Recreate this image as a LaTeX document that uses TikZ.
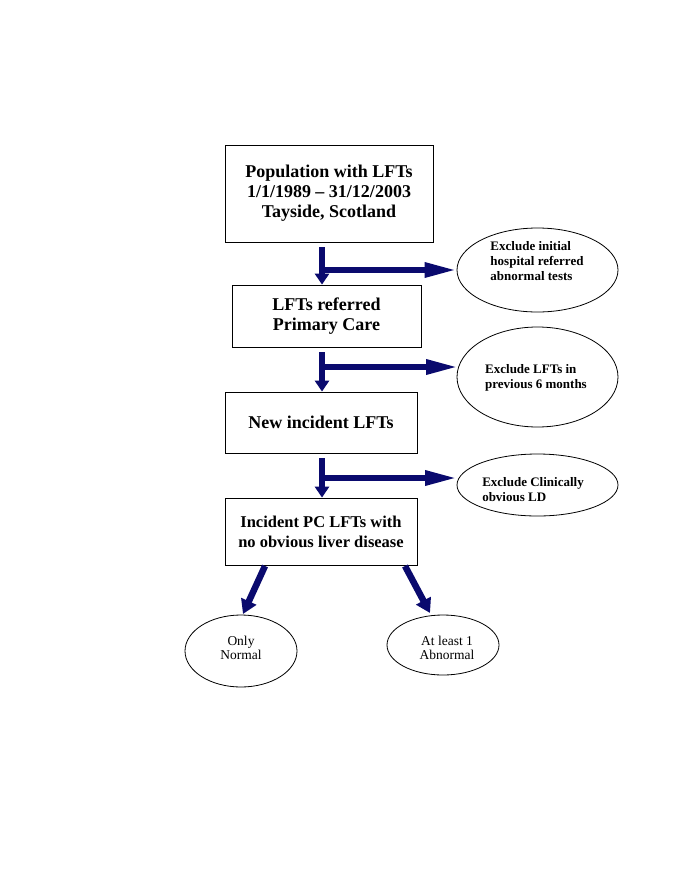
\documentclass[tikz,border=0pt]{standalone}
\usepackage{fontspec}
\setmainfont{Liberation Serif}
\usetikzlibrary{arrows.meta,shapes.geometric,calc}
\definecolor{navy}{RGB}{10,10,110}
\begin{document}
\begin{tikzpicture}[x=1pt,y=-1pt,
  box/.style={draw,line width=0.8pt,rectangle,inner sep=0pt,align=center},
  oval/.style={draw,line width=0.8pt,ellipse,inner sep=0pt},
  boxtxt/.style={font=\fontsize{18}{20}\selectfont\bfseries,align=center},
  ovaltxt/.style={font=\fontsize{13}{15}\selectfont\bfseries,align=left,inner sep=0pt},
  endtxt/.style={font=\fontsize{13.5}{14.5}\selectfont,align=center,inner sep=0pt},
  varrow/.style={draw=navy,line width=6pt,-{Triangle[length=11pt,width=14pt]},shorten <=5pt},
  harrow/.style={draw=navy,line width=6pt,-{Triangle[length=32pt,width=14pt]}},
  darrow/.style={draw=navy,line width=6.5pt,-{Triangle[length=14pt,width=16pt]}}]
\useasboundingbox[fill=white] (0,0) rectangle (685,886);

% boxes
\node[box,minimum width=208pt,minimum height=97pt,boxtxt] (b1) at (329,193.5)
  {Population with LFTs\\1/1/1989 -- 31/12/2003\\Tayside, Scotland};
\node[box,minimum width=189pt,minimum height=62pt,boxtxt] (b2) at (326.5,316)
  {LFTs referred\\Primary Care};
\node[box,minimum width=192pt,minimum height=61pt,boxtxt] (b3) at (321,422.5)
  {New incident LFTs};
\node[box,minimum width=192pt,minimum height=67pt,font=\fontsize{16.5}{20}\selectfont\bfseries] (b4) at (321,531.5)
  {Incident PC LFTs with\\no obvious liver disease};
% ellipses
\node[oval,minimum width=161pt,minimum height=84pt] (e1) at (537.5,270) {};
\node[ovaltxt] (e1t) at (537,261) {Exclude initial\\hospital referred\\abnormal tests};
\node[oval,minimum width=161pt,minimum height=100pt] (e2) at (537.5,377) {};
\node[ovaltxt] (e2t) at (536,378) {Exclude LFTs in\\previous 6 months};
\node[oval,minimum width=161pt,minimum height=62pt] (e3) at (537.5,485) {};
\node[ovaltxt] (e3t) at (533,490) {Exclude Clinically\\obvious LD};
\node[oval,minimum width=112pt,minimum height=72pt] (o1) at (241,651) {};
\node[endtxt] (o1t) at (241,648) {Only\\Normal};
\node[oval,minimum width=112pt,minimum height=60pt] (o2) at (443,645) {};
\node[endtxt] (o2t) at (447,648) {At least 1\\Abnormal};

% arrow guide coordinates
\coordinate (ax) at (322,0);
\coordinate (h1) at (325,270);
\coordinate (h2) at (325,367);
\coordinate (h3) at (325,478);
\coordinate (d1s) at (265,566);
\coordinate (d1e) at (243,614);
\coordinate (d2s) at (405,566);
\coordinate (d2e) at (430,613);

% vertical arrows
\draw[varrow] (b1.south -| ax) -- (b2.north -| ax);
\draw[varrow] (b2.south -| ax) -- (b3.north -| ax);
\draw[varrow] (b3.south -| ax) -- (b4.north -| ax);
% horizontal arrows
\draw[harrow] (h1) -- (h1 -| e1.west);
\draw[harrow] (h2) -- ($(h2 -| e2.west)+(1.5,0)$);
\draw[harrow] (h3) -- ($(h3 -| e3.west)+(0.5,0)$);
% diagonal arrows
\draw[darrow] (d1s) -- (d1e);
\draw[darrow] (d2s) -- (d2e);
\end{tikzpicture}
\end{document}
